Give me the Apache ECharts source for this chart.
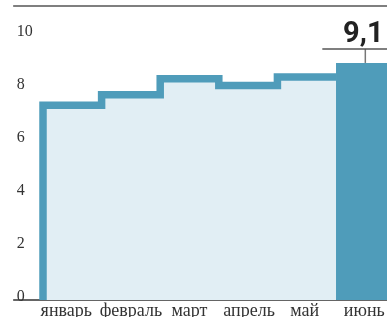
<!DOCTYPE html>
<html><head><meta charset="utf-8">
<style>html,body{margin:0;padding:0;background:#fff}#c{width:387px;height:317px}</style>
<script src="https://cdn.jsdelivr.net/npm/echarts@6/dist/echarts.min.js"></script>
</head><body><div id="c"></div>
<script>
var months = ['январь','февраль','март','апрель','май','июнь'];
var lineValues = [7.35, 7.75, 8.35, 8.1, 8.42];
var barValue = 8.95;
var barLabel = '9,1';
var yTicks = [0, 2, 4, 6, 8, 10];

// step outline built from the monthly values: category i spans [i+0.5, i+1.5]
var stepPts = [[0.5, 0]];
lineValues.forEach(function (v, i) { stepPts.push([i + 0.5, v]); stepPts.push([i + 1.5, v]); });
var barX = lineValues.length + 1;

// small label nudges (px) to mimic the original hand placement
var labelShift = [-6, 0, 0, 1, -2, -1];

var chart = echarts.init(document.getElementById('c'));
var serif = '"Liberation Serif", "DejaVu Serif", serif';
var rich = {};
labelShift.forEach(function (s, i) {
  rich['m' + i] = { fontFamily: serif, fontSize: 18, color: '#333',
    padding: s < 0 ? [0, -2 * s, 0, 0] : [0, 0, 0, 2 * s] };
});
chart.setOption({
  animation: false,
  grid: { left: 13.7, right: 0, top: 6, bottom: 17, containLabel: false, outerBoundsMode: 'none' },
  xAxis: [{
    type: 'value', min: 0, max: 6.37, interval: 1,
    axisLine: { show: true, lineStyle: { color: '#333', width: 1.5 } },
    axisTick: { show: false }, splitLine: { show: false },
    axisLabel: {
      margin: 2, color: '#333', fontFamily: serif, fontSize: 18,
      showMaxLabel: false, showMinLabel: false, rich: rich,
      formatter: function (v) {
        if (v >= 1 && v <= months.length && v % 1 === 0) return '{m' + (v - 1) + '|' + months[v - 1] + '}';
        return '';
      }
    }
  }, {
    type: 'value', position: 'top', min: 0, max: 6.37,
    axisLine: { show: true, onZero: false, lineStyle: { color: '#555', width: 1.5 } },
    axisTick: { show: false }, axisLabel: { show: false }, splitLine: { show: false }
  }],
  yAxis: {
    type: 'value', min: 0, max: 11.1, interval: 2,
    axisLine: { show: false }, axisTick: { show: false }, splitLine: { show: false },
    axisLabel: {
      inside: true, margin: 3, align: 'left', verticalAlign: 'bottom', lineHeight: 7,
      color: '#333', fontFamily: serif, fontSize: 16,
      formatter: function (v) { return yTicks.indexOf(v) >= 0 ? String(v) : ''; }
    }
  },
  series: [{
    type: 'line', data: stepPts, symbol: 'none',
    lineStyle: { color: '#4f9cba', width: 7.5, join: 'miter', cap: 'butt' },
    areaStyle: { color: '#e1eef4', opacity: 1 }, z: 2
  }, {
    type: 'bar', data: [[barX, barValue]], barWidth: 58.6,
    itemStyle: { color: '#4f9cba' }, z: 3
  }, {
    type: 'custom', data: [[barX, barValue]], z: 4,
    renderItem: function (params, api) {
      var p = api.coord([api.value(0), api.value(1)]);
      var hy = p[1] - 14;
      return { type: 'group', children: [
        { type: 'line', shape: { x1: p[0], y1: p[1], x2: p[0], y2: hy }, style: { stroke: '#777', lineWidth: 1.5 } },
        { type: 'line', shape: { x1: p[0] - 43, y1: hy, x2: p[0] + 30, y2: hy }, style: { stroke: '#555', lineWidth: 1.5 } },
        { type: 'text', x: p[0] - 2, y: hy + 0.5, style: {
          text: barLabel, fill: '#222', align: 'center', verticalAlign: 'bottom',
          font: 'bold 29px Roboto, sans-serif' } }
      ]};
    }
  }]
});
</script></body></html>
